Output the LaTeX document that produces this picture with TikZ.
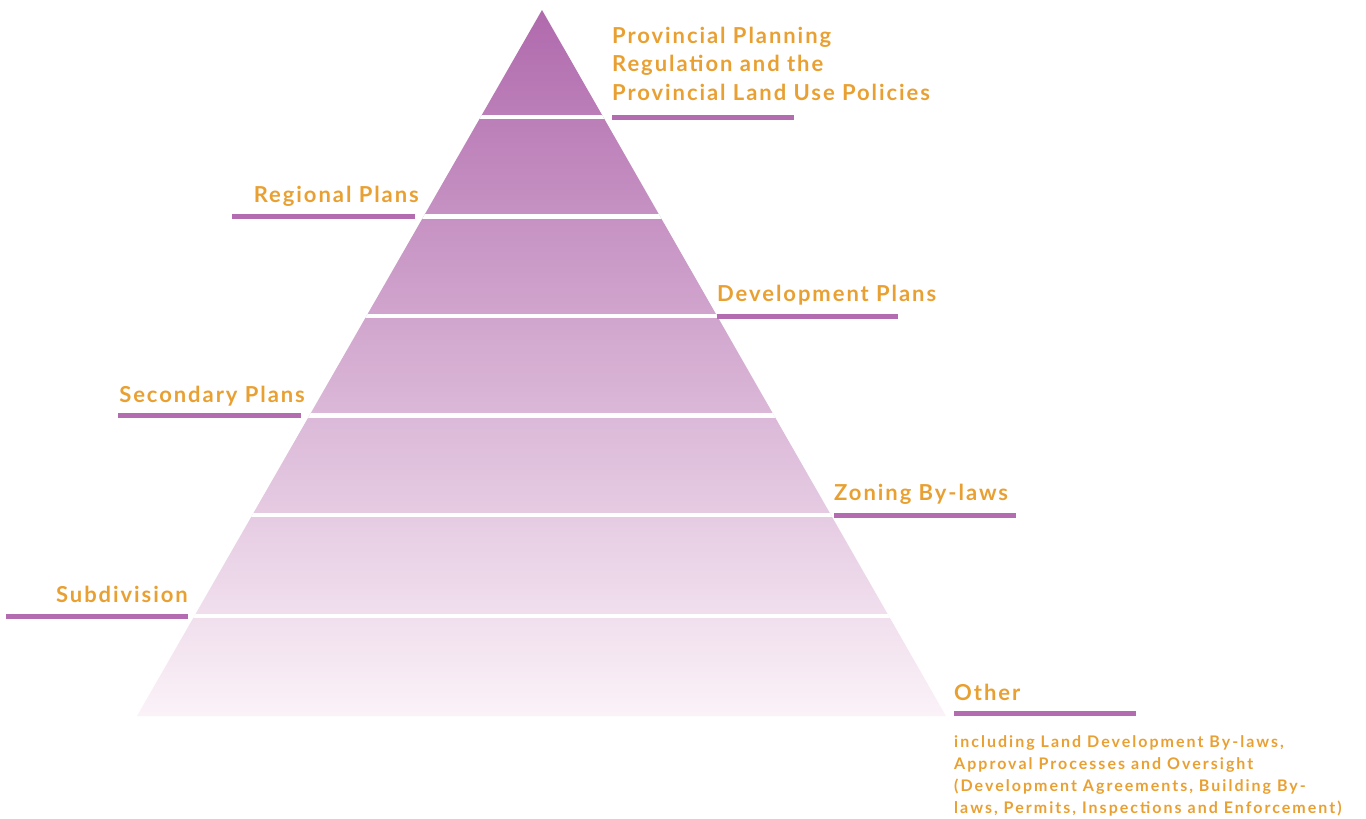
\documentclass[tikz,border=0pt]{standalone}
\usepackage{fontspec}
\setmainfont{Lato}
\newfontfamily\lblfont{Lato}[LetterSpace=8.8]
\newfontfamily\smallfont{Lato}[LetterSpace=12.6]
\definecolor{lblorange}{HTML}{E9A033}
\definecolor{lblpurple}{HTML}{B46CB0}
\definecolor{pyrtop}{HTML}{B06AAD}
\definecolor{pyrbot}{HTML}{FBF2F8}
\begin{document}
\begin{tikzpicture}[x=1pt,y=-1pt,
  lbl/.style={inner sep=0pt,text=lblorange,font=\lblfont\fontsize{22}{28.5}\selectfont\bfseries},
  small/.style={inner sep=0pt,text=lblorange,font=\smallfont\fontsize{16}{22}\selectfont\bfseries,align=left},
  uline/.style={draw=lblpurple,line width=5pt},
  gap/.style={draw=white,line width=4.5pt}]
\useasboundingbox (0,0) rectangle (1366,819);
% pyramid
\coordinate (apex) at (542,10);
\coordinate (bl) at (137,716);
\coordinate (br) at (946,716);
\shade[top color=pyrtop,bottom color=pyrbot] (apex) -- (br) -- (bl) -- cycle;
\begin{scope}
\clip (apex) -- (br) -- (bl) -- cycle;
\foreach \y in {117,216.5,316,415.5,515,616}{
  \draw[gap] (100,\y) -- (1000,\y);
}
\end{scope}
% labels
\node[lbl,anchor=base west,align=left] (prov) at (612,100) {Provincial Planning\\Regulation and the\\Provincial Land Use Policies};
\draw[uline] (612,117) coordinate (provA) -- (794,117) coordinate (provB);
\node[lbl,anchor=base east] (reg) at (419,202) {Regional Plans};
\draw[uline] (232,216) coordinate (regA) -- (415,216) coordinate (regB);
\node[lbl,anchor=base west] (dev) at (717,301) {Development Plans};
\draw[uline] (717,316) coordinate (devA) -- (898,316) coordinate (devB);
\node[lbl,anchor=base east] (sec) at (305,402) {Secondary Plans};
\draw[uline] (118,415) coordinate (secA) -- (301,415) coordinate (secB);
\node[lbl,anchor=base west] (zon) at (834,500) {Zoning By-laws};
\draw[uline] (834,515) coordinate (zonA) -- (1016,515) coordinate (zonB);
\node[lbl,anchor=base east] (sub) at (188,602) {Subdivision};
\draw[uline] (6,616) coordinate (subA) -- (188,616) coordinate (subB);
\node[lbl,anchor=base west] (oth) at (954,700) {Other};
\draw[uline] (954,713) coordinate (othA) -- (1136,713) coordinate (othB);
\node[small,anchor=base west] (othtxt) at (954,813) {including Land Development By-laws,\\Approval Processes and Oversight\\(Development Agreements, Building By-\\laws, Permits, Inspections and Enforcement)};
\end{tikzpicture}
\end{document}
